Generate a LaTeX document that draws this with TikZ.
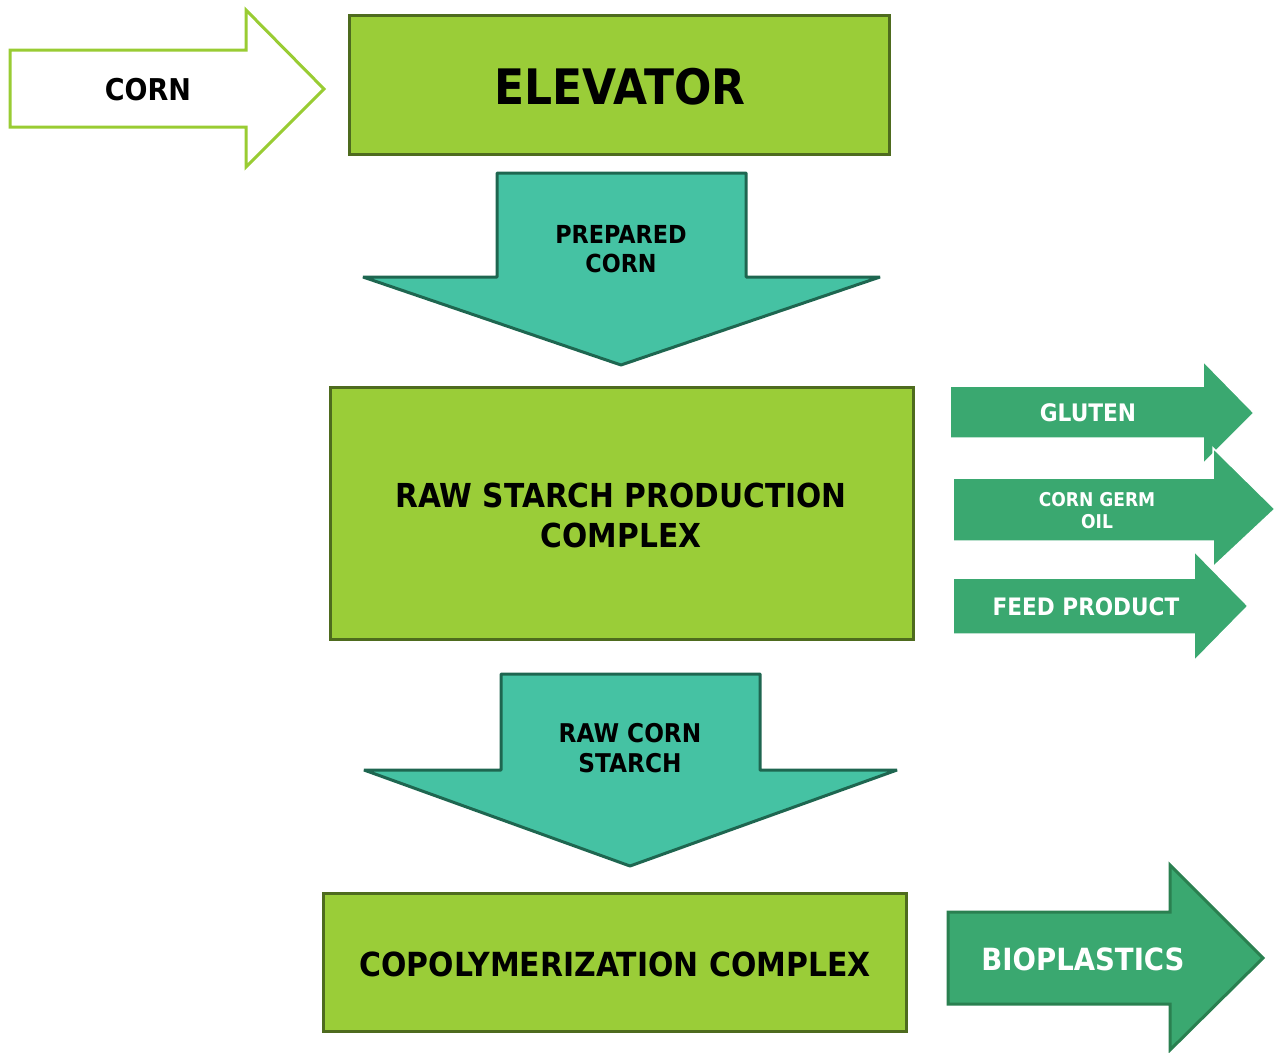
\documentclass[tikz,border=0pt]{standalone}
\usepackage{fontspec}
\setmainfont{DejaVu Sans}[FakeStretch=0.9]
\definecolor{leaf}{HTML}{9ACD38}
\definecolor{leafedge}{HTML}{4E6B1E}
\definecolor{cornedge}{HTML}{99CC33}
\definecolor{teal}{HTML}{45C2A3}
\definecolor{tealedge}{HTML}{1E6650}
\definecolor{outgreen}{HTML}{3AA870}
\definecolor{outedge}{HTML}{2A8050}
\tikzset{
  stagebox/.style={draw=leafedge, fill=leaf, line width=3pt},
  feedarrow/.style={draw=cornedge, fill=white, line width=3pt, line join=miter},
  flowarrow/.style={draw=tealedge, fill=teal, line width=3pt, line join=bevel},
  sidearrow/.style={draw=white, fill=outgreen, line width=1.5pt, line join=miter},
  mainarrow/.style={draw=outedge, fill=outgreen, line width=3pt, line join=miter},
  lbl/.style={inner sep=0pt, align=center, font=\bfseries},
}
\newcommand{\fs}[2]{\fontsize{#1}{#2}\selectfont}
\begin{document}
\begin{tikzpicture}[x=1pt, y=-1pt]
\useasboundingbox (0,0) rectangle (1281,1052);

% incoming corn
\draw[feedarrow] (10,50) -- (246,50) -- (246,10) -- (324,89) -- (246,167) -- (246,127) -- (10,127) -- cycle;
\node[lbl, font=\bfseries\fs{30}{33}] (corn) at (148,90) {CORN};

% elevator
\node[stagebox, minimum width=540pt, minimum height=139pt, inner sep=0pt] (elev) at (619,84.5) {};
\node[lbl, font=\bfseries\fs{48.9}{52}] (elevtxt) at (620,87) {ELEVATOR};

% prepared corn
\draw[flowarrow] (497,173) -- (746,173) -- (746,277) -- (880,277) -- (621,365) -- (363,277) -- (497,277) -- cycle;
\node[lbl, font=\bfseries\fs{24.8}{28.5}] (prep) at (621,249) {PREPARED\\CORN};

% raw starch production
\node[stagebox, minimum width=583pt, minimum height=252pt, inner sep=0pt] (raw) at (621.5,513) {};
\node[lbl, font=\bfseries\fs{33}{40}] (rawtxt) at (621,515) {RAW STARCH PRODUCTION\\COMPLEX};

% by-products
\draw[sidearrow] (950,386) -- (1203,386) -- (1203,361) -- (1254,413) -- (1203,464) -- (1203,438) -- (950,438) -- cycle;
\node[lbl, text=white, font=\bfseries\fs{24.1}{27}] (gluten) at (1088,413) {GLUTEN};
\draw[sidearrow] (953,478) -- (1213,478) -- (1213,448) -- (1275,509) -- (1213,567) -- (1213,541) -- (953,541) -- cycle;
\node[lbl, text=white, font=\bfseries\fs{19}{22}] (germ) at (1097,511) {CORN GERM\\OIL};
\draw[sidearrow] (953,578) -- (1194,578) -- (1194,551) -- (1248,606) -- (1194,661) -- (1194,634) -- (953,634) -- cycle;
\node[lbl, text=white, font=\bfseries\fs{24}{27}] (feed) at (1086,607) {FEED PRODUCT};

% raw corn starch
\draw[flowarrow] (501,674) -- (760,674) -- (760,770) -- (897,770) -- (630,866) -- (364,770) -- (501,770) -- cycle;
\node[lbl, font=\bfseries\fs{25.8}{30}] (starch) at (630,748) {RAW CORN\\STARCH};

% copolymerization
\node[stagebox, minimum width=583pt, minimum height=138pt, inner sep=0pt] (copo) at (614.5,962) {};
\node[lbl, font=\bfseries\fs{33.2}{38}] (copotxt) at (615,964) {COPOLYMERIZATION COMPLEX};

% final product
\draw[mainarrow] (948,912) -- (1170,912) -- (1170,865) -- (1263,958) -- (1170,1050) -- (1170,1004) -- (948,1004) -- cycle;
\node[lbl, text=white, font=\bfseries\fs{30.6}{34}] (bio) at (1083,959) {BIOPLASTICS};
\end{tikzpicture}
\end{document}
